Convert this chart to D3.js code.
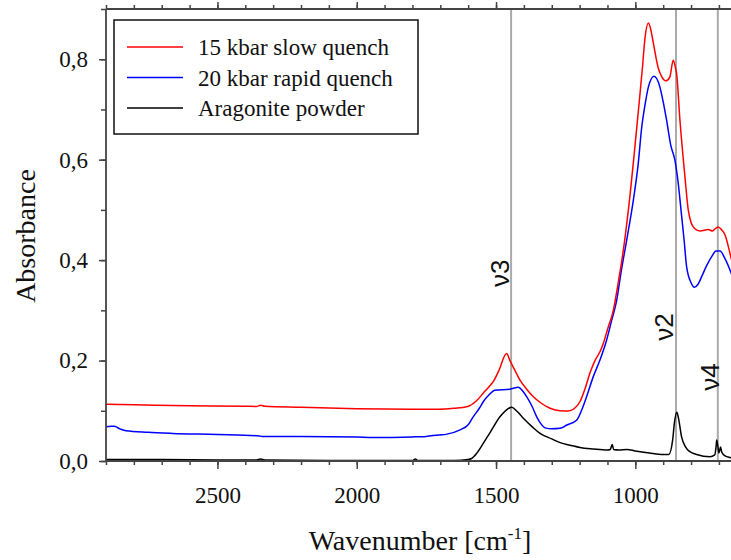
<!DOCTYPE html>
<html><head><meta charset="utf-8">
<script src="https://cdn.jsdelivr.net/npm/d3@7"></script>
<style>body{margin:0;background:#fff}svg{display:block}text{font-family:"Liberation Serif","Times New Roman",serif}</style>
</head><body><svg id="c" width="731" height="560"></svg>
<script>
const seriesNames = ["15 kbar slow quench","20 kbar rapid quench","Aragonite powder"];
const seriesColors = ["#ff0000","#0000ff","#000000"];
const redWn = [2900,2800,2600,2400,2360,2345,2330,2200,2000,1800,1705,1650,1605,1570,1546,1525,1510,1490,1462,1450,1430,1414,1390,1366,1340,1306,1270,1241,1220,1199,1180,1163,1145,1127,1115,1100,1079,1060,1043,1025,989,975,965,953,945,935,917,905,890,876,864,855,852,840,822,810,800,792,780,768,738,723,712,702,690,678,660,650];
const redAbs = [0.113,0.112,0.110,0.109,0.1085,0.111,0.109,0.107,0.104,0.103,0.103,0.105,0.108,0.120,0.135,0.148,0.158,0.180,0.214,0.200,0.178,0.161,0.143,0.128,0.116,0.105,0.100,0.0995,0.104,0.118,0.145,0.175,0.200,0.2175,0.234,0.262,0.300,0.360,0.420,0.500,0.698,0.780,0.844,0.872,0.860,0.831,0.781,0.765,0.757,0.765,0.798,0.780,0.772,0.679,0.566,0.4995,0.475,0.466,0.460,0.458,0.461,0.458,0.463,0.466,0.460,0.450,0.413,0.390];
const blueWn = [2900,2880,2870,2850,2828,2750,2661,2500,2350,2340,2200,2000,1943,1800,1751,1704,1680,1629,1600,1582,1560,1546,1525,1504,1450,1420,1405,1390,1370,1354,1340,1324,1300,1270,1246,1210,1190,1175,1151,1127,1103,1085,1067,1050,1031,1007,990,977,965,953,933,912,900,888,873,858,846,836,825,816,800,788,775,762,745,726,710,696,680,660,650];
const blueAbs = [0.068,0.069,0.069,0.064,0.060,0.057,0.055,0.053,0.050,0.049,0.049,0.048,0.047,0.048,0.049,0.052,0.053,0.062,0.072,0.088,0.105,0.118,0.132,0.141,0.143,0.1466,0.140,0.128,0.108,0.088,0.075,0.066,0.064,0.065,0.0716,0.0816,0.105,0.128,0.168,0.201,0.241,0.280,0.320,0.380,0.440,0.520,0.590,0.665,0.710,0.745,0.766,0.745,0.715,0.679,0.629,0.599,0.553,0.4995,0.440,0.387,0.355,0.346,0.352,0.367,0.388,0.407,0.418,0.418,0.405,0.380,0.365];
const blackWn = [2900,2700,2500,2360,2345,2330,2100,1800,1790,1780,1650,1600,1588,1570,1546,1520,1486,1460,1444,1425,1402,1370,1342,1300,1270,1230,1199,1150,1100,1090,1083,1078,1060,1030,1000,950,900,880,866,860,851,845,834,820,804,780,732,715,710,708,704,700,697,694,690,678,660,650];
const blackAbs = [0.003,0.003,0.002,0.002,0.004,0.002,0.001,0.001,0.004,0.001,0.001,0.003,0.005,0.015,0.035,0.058,0.088,0.103,0.107,0.099,0.085,0.068,0.055,0.044,0.0365,0.031,0.027,0.024,0.022,0.023,0.033,0.023,0.022,0.023,0.020,0.016,0.013,0.013,0.042,0.075,0.097,0.085,0.048,0.028,0.0186,0.013,0.0086,0.012,0.030,0.042,0.030,0.016,0.022,0.028,0.018,0.010,0.007,0.006];
const bandWn = [1446,854,704];
const bandLabels = ["ν3","ν2","ν4"];
const bandLabelPos = [[1486,0.374],[897,0.267],[732,0.167]];
const xMajorTicks = [2500,2000,1500,1000];
const xMinorTicks = d3.range(2900,640,-100);
const yMajorTicks = [0,0.2,0.4,0.6,0.8];
const yMinorTicks = d3.range(0,0.91,0.1);

const svg = d3.select("#c");
const L=106, T=9, B=461;
const x = d3.scaleLinear().domain([2900,650]).range([L, L+2250*0.2786]);
const y = d3.scaleLinear().domain([0,0.9]).range([B, T]);
const axisColor="#444";

svg.append("defs").append("clipPath").attr("id","pc").append("rect")
  .attr("x",L).attr("y",T).attr("width",731-L).attr("height",B-T);

const g = svg.append("g").attr("clip-path","url(#pc)");
g.selectAll("line.band").data(bandWn).join("line")
  .attr("x1",d=>x(d)).attr("x2",d=>x(d)).attr("y1",y(0)).attr("y2",y(0.9))
  .attr("stroke","#aaaaaa").attr("stroke-width",2);

const line = d3.line().x(d=>x(d[0])).y(d=>y(d[1])).curve(d3.curveMonotoneX);
const data = [d3.zip(redWn,redAbs), d3.zip(blueWn,blueAbs), d3.zip(blackWn,blackAbs)];
[2,1,0].forEach(i=>{
  g.append("path").datum(data[i]).attr("d",line).attr("fill","none")
   .attr("stroke",seriesColors[i]).attr("stroke-width",1.5);
});

svg.selectAll("text.band").data(bandLabels).join("text")
  .attr("transform",(d,i)=>`translate(${x(bandLabelPos[i][0])},${y(bandLabelPos[i][1])}) rotate(-90)`)
  .attr("text-anchor","middle").attr("dominant-baseline","central")
  .style("font-family","'Liberation Sans',Arial,sans-serif")
  .attr("font-size",26).attr("fill","#111").text(d=>d);

function addAxis(axisGen, transform, ticks, size){
  const a = svg.append("g").attr("transform",transform);
  a.call(axisGen.tickValues(ticks).tickSize(size).tickFormat(""));
  a.select(".domain").remove();
  a.selectAll("line").attr("stroke",axisColor).attr("stroke-width",1.5);
  return a;
}
addAxis(d3.axisBottom(x),`translate(0,${B})`,xMinorTicks,4);
const bM = svg.append("g").attr("transform",`translate(0,${B})`)
  .call(d3.axisBottom(x).tickValues(xMajorTicks).tickSize(8).tickPadding(18).tickFormat(d3.format("d")));
bM.select(".domain").remove();
bM.selectAll("line").attr("stroke",axisColor).attr("stroke-width",1.5);
bM.selectAll("text").attr("font-size",23).attr("fill","#111").attr("font-family","Liberation Serif");
addAxis(d3.axisTop(x),`translate(0,${T})`,xMinorTicks,4);
addAxis(d3.axisTop(x),`translate(0,${T})`,xMajorTicks,7);
addAxis(d3.axisLeft(y),`translate(${L},0)`,yMinorTicks,5);
const lM = svg.append("g").attr("transform",`translate(${L},0)`)
  .call(d3.axisLeft(y).tickValues(yMajorTicks).tickSize(7).tickPadding(11).tickFormat(d=>d3.format(".1f")(d).replace(".",",")));
lM.select(".domain").remove();
lM.selectAll("line").attr("stroke",axisColor).attr("stroke-width",1.5);
lM.selectAll("text").attr("font-size",23).attr("fill","#111").attr("font-family","Liberation Serif");

svg.append("line").attr("x1",L).attr("x2",L).attr("y1",T).attr("y2",B).attr("stroke",axisColor).attr("stroke-width",1.8);
svg.append("line").attr("x1",L).attr("x2",731).attr("y1",B).attr("y2",B).attr("stroke",axisColor).attr("stroke-width",1.8);
svg.append("line").attr("x1",L).attr("x2",731).attr("y1",T).attr("y2",T).attr("stroke",axisColor).attr("stroke-width",1.8);

const xt = svg.append("text").attr("x",420).attr("y",550).attr("text-anchor","middle")
  .attr("font-size",28).attr("fill","#111");
xt.append("tspan").text("Wavenumber [cm");
xt.append("tspan").attr("dy",-11).attr("font-size",17).text("-1");
xt.append("tspan").attr("dy",11).text("]");
svg.append("text").attr("transform","translate(35,236) rotate(-90)").attr("text-anchor","middle")
  .attr("font-size",28).attr("fill","#111").text("Absorbance");

const lg = svg.append("g");
lg.append("rect").attr("x",114).attr("y",20).attr("width",304).attr("height",114)
  .attr("fill","#fff").attr("stroke","#111").attr("stroke-width",1.5);
seriesNames.forEach((n,i)=>{
  const yy = 47 + i*30.5;
  lg.append("line").attr("x1",127).attr("x2",183).attr("y1",yy).attr("y2",yy)
    .attr("stroke",seriesColors[i]).attr("stroke-width",1.5);
  lg.append("text").attr("x",198).attr("y",yy+8).attr("font-size",23).attr("fill","#111").text(n);
});
</script></body></html>
